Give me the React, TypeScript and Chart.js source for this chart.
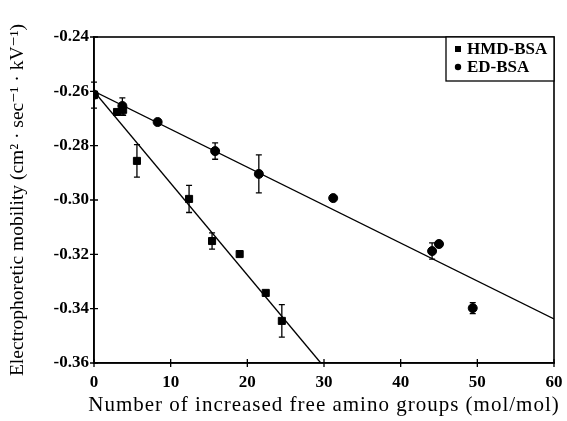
import React, { useEffect, useRef } from "react";
import { Chart, registerables } from "chart.js";

Chart.register(...registerables);

// HMD-BSA measurements: increased free amino groups vs. mobility, with error
const hmdX = [0, 3.0, 3.8, 5.6, 12.4, 15.4, 19.0, 22.4, 24.5];
const hmdY = [-0.2614, -0.2676, -0.2668, -0.2856, -0.2996, -0.3151, -0.3199, -0.3342, -0.3445];
const hmdErr = [0.0048, 0, 0.002, 0.006, 0.005, 0.003, 0, 0, 0.006];

// ED-BSA measurements
const edX = [0, 3.7, 8.3, 15.8, 21.5, 31.2, 44.1, 45.0, 49.4];
const edY = [-0.2612, -0.2654, -0.2713, -0.282, -0.2904, -0.2993, -0.3188, -0.3162, -0.3398];
const edErr = [0, 0.003, 0, 0.003, 0.007, 0, 0.003, 0, 0.002];

// Linear fits (end points)
const hmdFitX = [0, 30];
const hmdFitY = [-0.26, -0.3614];
const edFitX = [0, 60];
const edFitY = [-0.26, -0.3438];

const xTicks = [0, 10, 20, 30, 40, 50, 60];
const yMin = -0.36;
const yMax = -0.24;

const legendLabels = ["HMD-BSA", "ED-BSA"];
const xTitle = "Number of increased free amino groups (mol/mol)";
const yTitle = "Electrophoretic mobility (cm² · sec⁻¹ · kV⁻¹)";

const SERIF = "'Liberation Serif', 'DejaVu Serif', serif";

const pts = (xs: number[], ys: number[]) => xs.map((x, i) => ({ x, y: ys[i] }));

const errorBars = {
  id: "errorBars",
  afterDatasetsDraw(chart: any) {
    const { ctx, scales } = chart;
    const xs = scales.x;
    const ys = scales.y;
    ctx.save();
    ctx.strokeStyle = "#000";
    ctx.lineWidth = 1.3;
    chart.data.datasets.forEach((ds: any) => {
      if (!ds.errors) return;
      ds.data.forEach((p: any, i: number) => {
        const e = ds.errors[i];
        if (!e) return;
        const px = xs.getPixelForValue(p.x);
        const top = ys.getPixelForValue(p.y + e);
        const bot = ys.getPixelForValue(p.y - e);
        ctx.beginPath();
        ctx.moveTo(px, top);
        ctx.lineTo(px, bot);
        ctx.moveTo(px - 3, top);
        ctx.lineTo(px + 3, top);
        ctx.moveTo(px - 3, bot);
        ctx.lineTo(px + 3, bot);
        ctx.stroke();
      });
    });
    ctx.restore();
  },
};

const frameAndLegend = {
  id: "frameAndLegend",
  afterDraw(chart: any) {
    const { ctx, chartArea: a, scales } = chart;
    ctx.save();
    ctx.strokeStyle = "#000";
    ctx.lineWidth = 1.6;
    ctx.strokeRect(a.left, a.top, a.right - a.left, a.bottom - a.top);

    // tick marks crossing the axes
    ctx.lineWidth = 1.3;
    ctx.beginPath();
    scales.y.ticks.forEach((t: any) => {
      const py = scales.y.getPixelForValue(t.value);
      ctx.moveTo(a.left - 4, py);
      ctx.lineTo(a.left + 4, py);
    });
    scales.x.ticks.forEach((t: any) => {
      const px = scales.x.getPixelForValue(t.value);
      ctx.moveTo(px, a.bottom - 4);
      ctx.lineTo(px, a.bottom + 4);
    });
    ctx.stroke();

    // x-axis title, loosely spaced
    ctx.fillStyle = "#000";
    ctx.font = `21px ${SERIF}`;
    (ctx as any).letterSpacing = "1px";
    ctx.textAlign = "center";
    ctx.textBaseline = "middle";
    ctx.fillText(xTitle, (a.left + a.right) / 2, a.bottom + 42);
    (ctx as any).letterSpacing = "0px";

    // legend box in the upper right corner
    const w = 108;
    const h = 44;
    const lx = a.right - w;
    const ly = a.top;
    ctx.fillStyle = "#fff";
    ctx.fillRect(lx, ly, w, h);
    ctx.lineWidth = 1.3;
    ctx.strokeRect(lx, ly, w, h);
    ctx.fillStyle = "#000";
    ctx.font = `bold 17px ${SERIF}`;
    ctx.textBaseline = "middle";
    ctx.textAlign = "left";
    const rows = [ly + 12, ly + 30];
    // square marker
    ctx.fillRect(lx + 9, rows[0] - 3, 6, 6);
    // circle marker
    ctx.beginPath();
    ctx.arc(lx + 12, rows[1], 3.2, 0, Math.PI * 2);
    ctx.fill();
    ctx.fillText(legendLabels[0], lx + 21, rows[0] + 1);
    ctx.fillText(legendLabels[1], lx + 21, rows[1] + 1);
    ctx.restore();
  },
};

export default function App() {
  const ref = useRef<HTMLCanvasElement | null>(null);

  useEffect(() => {
    document.body.style.margin = "0";
    const canvas = ref.current;
    if (!canvas) return;
    const chart = new Chart(canvas, {
      type: "scatter",
      data: {
        datasets: [
          {
            label: "HMD-BSA fit",
            data: pts(hmdFitX, hmdFitY),
            showLine: true,
            borderColor: "#000",
            borderWidth: 1.4,
            pointRadius: 0,
          },
          {
            label: "ED-BSA fit",
            data: pts(edFitX, edFitY),
            showLine: true,
            borderColor: "#000",
            borderWidth: 1.4,
            pointRadius: 0,
          },
          {
            label: legendLabels[0],
            data: pts(hmdX, hmdY),
            pointStyle: "rect",
            pointRadius: 5,
            backgroundColor: "#000",
            borderColor: "#000",
            errors: hmdErr,
          } as any,
          {
            label: legendLabels[1],
            data: pts(edX, edY),
            pointStyle: "circle",
            pointRadius: 4.5,
            backgroundColor: "#000",
            borderColor: "#000",
            errors: edErr,
          } as any,
        ],
      },
      options: {
        animation: false,
        responsive: false,
        devicePixelRatio: 1,
        layout: { padding: { left: 0, right: 13, top: 37, bottom: 0 } },
        plugins: { legend: { display: false }, tooltip: { enabled: false } },
        scales: {
          x: {
            type: "linear",
            min: 0,
            max: 60,
            afterFit: (s: any) => {
              s.height = 58;
              s.paddingLeft = 0;
              s.paddingRight = 0;
            },
            afterBuildTicks: (s: any) => {
              s.ticks = xTicks.map((v) => ({ value: v }));
            },
            grid: { drawOnChartArea: false, drawTicks: false },
            border: { color: "#000", width: 1.6 },
            ticks: {
              color: "#000",
              padding: 9,
              font: { family: SERIF, size: 17, weight: "bold" },
            },
          },
          y: {
            type: "linear",
            min: yMin,
            max: yMax,
            afterFit: (s: any) => {
              s.width = 94;
              s.paddingTop = 0;
              s.paddingBottom = 0;
            },
            grid: { drawOnChartArea: false, drawTicks: false },
            border: { color: "#000", width: 1.6 },
            ticks: {
              stepSize: 0.02,
              color: "#000",
              padding: 5,
              font: { family: SERIF, size: 17, weight: "bold" },
              callback: (v: any) => Number(v).toFixed(2),
            },
            title: {
              display: true,
              text: yTitle,
              color: "#000",
              font: { family: SERIF, size: 19.5 },
              padding: { top: 6, bottom: 0 },
            },
          },
        },
      } as any,
      plugins: [errorBars, frameAndLegend],
    });
    return () => chart.destroy();
  }, []);

  return (
    <div style={{ width: 567, height: 421, background: "#fff" }}>
      <canvas ref={ref} width={567} height={421} style={{ display: "block" }} />
    </div>
  );
}
